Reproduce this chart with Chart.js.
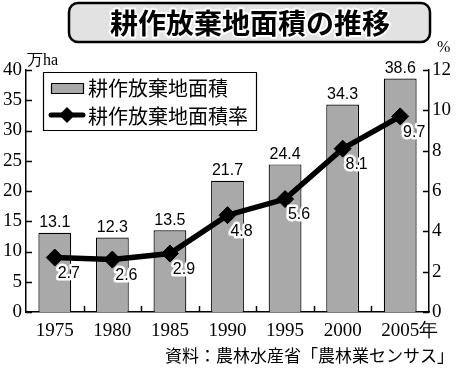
<!DOCTYPE html>
<html>
<head>
<meta charset="utf-8">
<script src="https://cdn.jsdelivr.net/npm/chart.js@4.4.1/dist/chart.umd.min.js"></script>
<style>
  html, body { margin: 0; padding: 0; background: #fff; }
  #wrap { width: 458px; height: 370px; }
</style>
</head>
<body>
<div id="wrap"><canvas id="chart" width="458" height="370"></canvas></div>
<script>
// data
const years = ['1975', '1980', '1985', '1990', '1995', '2000', '2005'];
const areaValues = [13.1, 12.3, 13.5, 21.7, 24.4, 34.3, 38.6];   // 万ha
const rateValues = [2.7, 2.6, 2.9, 4.8, 5.6, 8.1, 9.7];          // %
const areaTicks = [0, 5, 10, 15, 20, 25, 30, 35, 40];
const rateTicks = [0, 2, 4, 6, 8, 10, 12];

const titleText = '耕作放棄地面積の推移';
const areaLabel = '耕作放棄地面積';
const rateLabel = '耕作放棄地面積率';
const sourceText = '資料：農林水産省「農林業センサス」';

const SERIF = '"Liberation Serif", "DejaVu Serif", serif';
const SANS = '"Liberation Sans", Arial, sans-serif';
const JP = '"Noto Sans CJK JP", sans-serif';
const BAR_GRAY = '#a9a9a9';

// everything drawn around the plot: title, legend, units, value labels, inward ticks
const decorations = {
  id: 'decorations',
  afterDraw(chart) {
    const ctx = chart.ctx;
    const area = chart.chartArea;
    const x = chart.scales.x, y = chart.scales.y, y1 = chart.scales.y1;
    ctx.save();

    // inward tick marks
    ctx.strokeStyle = '#000';
    ctx.lineWidth = 1.5;
    ctx.beginPath();
    areaTicks.forEach(v => {
      const py = Math.round(y.getPixelForValue(v)) + 0.5;
      ctx.moveTo(area.left, py); ctx.lineTo(area.left + 6, py);
    });
    rateTicks.forEach(v => {
      const py = Math.round(y1.getPixelForValue(v)) + 0.5;
      ctx.moveTo(area.right, py); ctx.lineTo(area.right - 6, py);
    });
    const step = (area.right - area.left) / years.length;
    for (let k = 1; k < years.length; k++) {
      const px = Math.round(area.left + k * step) + 0.5;
      ctx.moveTo(px, area.bottom); ctx.lineTo(px, area.bottom - 6);
    }
    ctx.stroke();

    // value labels above bars
    const barMeta = chart.getDatasetMeta(1);
    ctx.font = '16px ' + SANS;
    ctx.textAlign = 'center';
    ctx.textBaseline = 'bottom';
    ctx.fillStyle = '#000';
    barMeta.data.forEach((bar, i) => {
      ctx.fillText(areaValues[i].toFixed(1), bar.x, bar.y - 2);
    });

    // rate labels with white halo
    const lineMeta = chart.getDatasetMeta(0);
    ctx.textBaseline = 'middle';
    ctx.lineJoin = 'round';
    lineMeta.data.forEach((pt, i) => {
      const tx = pt.x + 14, ty = pt.y + 16;
      ctx.strokeStyle = '#fff';
      ctx.lineWidth = 5;
      ctx.strokeText(rateValues[i].toFixed(1), tx, ty);
      ctx.fillText(rateValues[i].toFixed(1), tx, ty);
    });

    // units
    ctx.font = '16px ' + SERIF;
    ctx.textAlign = 'left';
    ctx.textBaseline = 'middle';
    ctx.fillText('万ha', area.left + 1, 61);
    ctx.fillText('%', 437, 48);

    // 年 after the last year label
    const lastX = x.getPixelForValue(years.length - 1);
    ctx.font = '19px ' + SERIF;
    const w = ctx.measureText(years[years.length - 1]).width;
    ctx.fillText('年', lastX + w / 2, 331);

    // source note
    ctx.font = '17px ' + JP;
    ctx.textAlign = 'right';
    ctx.fillText(sourceText, 454, 356);

    // title box
    ctx.beginPath();
    ctx.roundRect(69, 3, 361, 39, 9);
    ctx.fillStyle = '#e2e2e2';
    ctx.fill();
    ctx.lineWidth = 2.5;
    ctx.strokeStyle = '#000';
    ctx.stroke();
    ctx.font = 'bold 28px ' + JP;
    ctx.textAlign = 'center';
    ctx.textBaseline = 'middle';
    ctx.lineWidth = 4;
    ctx.strokeStyle = '#fff';
    ctx.strokeText(titleText, 250, 23);
    ctx.fillStyle = '#000';
    ctx.fillText(titleText, 250, 23);

    // legend box
    ctx.fillStyle = '#fff';
    ctx.fillRect(43, 72, 213, 58);
    ctx.lineWidth = 1.2;
    ctx.strokeStyle = '#000';
    ctx.strokeRect(43.5, 72.5, 213, 58);
    ctx.fillStyle = BAR_GRAY;
    ctx.fillRect(51, 83, 32, 10);
    ctx.strokeRect(51.5, 83.5, 32, 10);
    ctx.beginPath();
    ctx.lineWidth = 5;
    ctx.lineCap = 'round';
    ctx.moveTo(51, 115); ctx.lineTo(83, 115);
    ctx.stroke();
    ctx.beginPath();
    ctx.fillStyle = '#000';
    ctx.moveTo(67, 107); ctx.lineTo(75, 115); ctx.lineTo(67, 123); ctx.lineTo(59, 115);
    ctx.closePath();
    ctx.fill();
    ctx.font = '20px ' + JP;
    ctx.textAlign = 'left';
    ctx.fillText(areaLabel, 88, 88);
    ctx.fillText(rateLabel, 88, 116);

    ctx.restore();
  }
};

new Chart(document.getElementById('chart'), {
  data: {
    labels: years,
    datasets: [
      {
        type: 'line',
        label: rateLabel,
        data: rateValues,
        yAxisID: 'y1',
        borderColor: '#000',
        borderWidth: 5.5,
        pointStyle: 'rectRot',
        pointRadius: 8.5,
        pointBackgroundColor: '#000',
        pointBorderColor: '#000',
        pointBorderWidth: 1,
        order: 0
      },
      {
        type: 'bar',
        label: areaLabel,
        data: areaValues,
        yAxisID: 'y',
        backgroundColor: BAR_GRAY,
        borderColor: '#000',
        borderWidth: 1.2,
        categoryPercentage: 1,
        barPercentage: 0.57,
        order: 1
      }
    ]
  },
  options: {
    responsive: false,
    animation: false,
    devicePixelRatio: 1,
    layout: { padding: { top: 70, bottom: 28, left: 0, right: 0 } },
    plugins: { legend: { display: false }, tooltip: { enabled: false } },
    scales: {
      x: {
        offset: true,
        grid: { display: false, drawTicks: false },
        border: { display: true, color: '#000', width: 1.5 },
        ticks: { color: '#000', font: { family: SERIF, size: 19 }, padding: 8, maxRotation: 0 },
        afterFit(s) { s.height = 30; }
      },
      y: {
        position: 'left',
        min: 0, max: 40,
        afterBuildTicks(s) { s.ticks = areaTicks.map(v => ({ value: v })); },
        grid: { display: false, drawTicks: false },
        border: { display: true, color: '#000', width: 1.5 },
        ticks: { color: '#000', font: { family: SERIF, size: 19 }, padding: 4 },
        afterFit(s) { s.width = 26; }
      },
      y1: {
        position: 'right',
        min: 0, max: 12,
        afterBuildTicks(s) { s.ticks = rateTicks.map(v => ({ value: v })); },
        grid: { display: false, drawTicks: false },
        border: { display: true, color: '#000', width: 1.5 },
        ticks: { color: '#000', font: { family: SERIF, size: 19 }, padding: 3 },
        afterFit(s) { s.width = 29; }
      }
    }
  },
  plugins: [decorations]
});
</script>
</body>
</html>
